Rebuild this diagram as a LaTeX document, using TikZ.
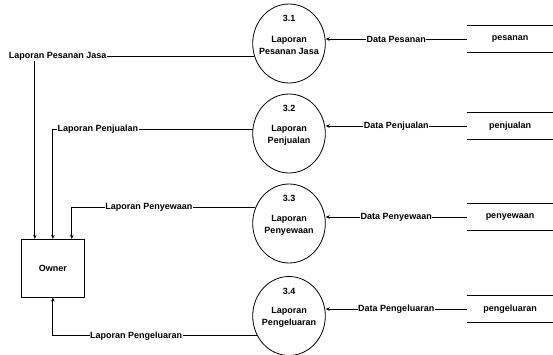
\documentclass[tikz,border=0pt]{standalone}
\usepackage{fontspec}
\setmainfont{Liberation Sans}
\usetikzlibrary{shapes.geometric,arrows.meta,calc}
\tikzset{
  base/.style={font=\fontsize{9}{12}\selectfont\bfseries},
  proc/.style={draw, line width=0.8pt, ellipse, minimum width=72.6pt, minimum height=79pt, inner sep=0pt},
  ptext/.style={base, align=center, inner sep=0pt},
  pnum/.style={base, inner sep=0pt},
  store/.style={base, minimum width=86pt, minimum height=26.7pt, inner sep=0pt},
  storeline/.style={line width=0.8pt},
  ent/.style={base, draw, line width=0.8pt, minimum width=62.3pt, minimum height=58pt},
  flow/.style={line width=0.8pt, -{Stealth[length=4pt,width=3.6pt]}},
  lbl/.style={base, fill=white, inner sep=0.6pt}
}
\begin{document}
\begin{tikzpicture}[x=1pt,y=-1pt]
\useasboundingbox (0,0) rectangle (553,354);

% processes
\foreach \n/\y/\num/\txt in {p1/43.5/3.1/{Laporan\\Pesanan Jasa},
                             p2/133.5/3.2/{Laporan\\Penjualan},
                             p3/223.5/3.3/{Laporan\\Penyewaan},
                             p4/316/3.4/{Laporan\\Pengeluaran}}{
  \node[proc] (\n) at (289,\y) {};
  \node[pnum] (\n num) at ($(\n.center)+(0,-25)$) {\num};
  \node[ptext] (\n txt) at ($(\n.center)+(0,1.5)$) {\txt};
}

% data stores (open-ended, top and bottom lines only)
\foreach \n/\y/\txt in {s1/39/pesanan, s2/126/penjualan, s3/217/penyewaan, s4/309/pengeluaran}{
  \node[store] (\n) at (510,\y) {\txt};
  \draw[storeline] (\n.north west) -- (\n.north east);
  \draw[storeline] (\n.south west) -- (\n.south east);
}

% external entity
\node[ent] (owner) at (52.85,268.2) {Owner};

% data flows from stores into processes
\draw[flow] (s1.west) -- (p1.east |- s1.west) node[lbl,midway] {Data Pesanan};
\draw[flow] (s2.west) -- (p2.east |- s2.west) node[lbl,midway] {Data Penjualan};
\draw[flow] (s3.west) -- (p3.east |- s3.west) node[lbl,midway] {Data Penyewaan};
\draw[flow] (s4.west) -- (p4.east |- s4.west) node[lbl,midway] {Data Pengeluaran};

% reports to the owner
\draw[flow] (p1.201) -| ([xshift=-18pt]owner.north) node[lbl,pos=0.448] {Laporan Pesanan Jasa};
\draw[flow] (p2.173.3) -| (owner.north) node[lbl,pos=0.387] {Laporan Penjualan};
\draw[flow] (p3.155.5) -| ([xshift=19pt]owner.north) node[lbl,pos=0.29] {Laporan Penyewaan};
\draw[flow] (p4.212) -| (owner.south) node[lbl,pos=0.296] {Laporan Pengeluaran};
\end{tikzpicture}
\end{document}
